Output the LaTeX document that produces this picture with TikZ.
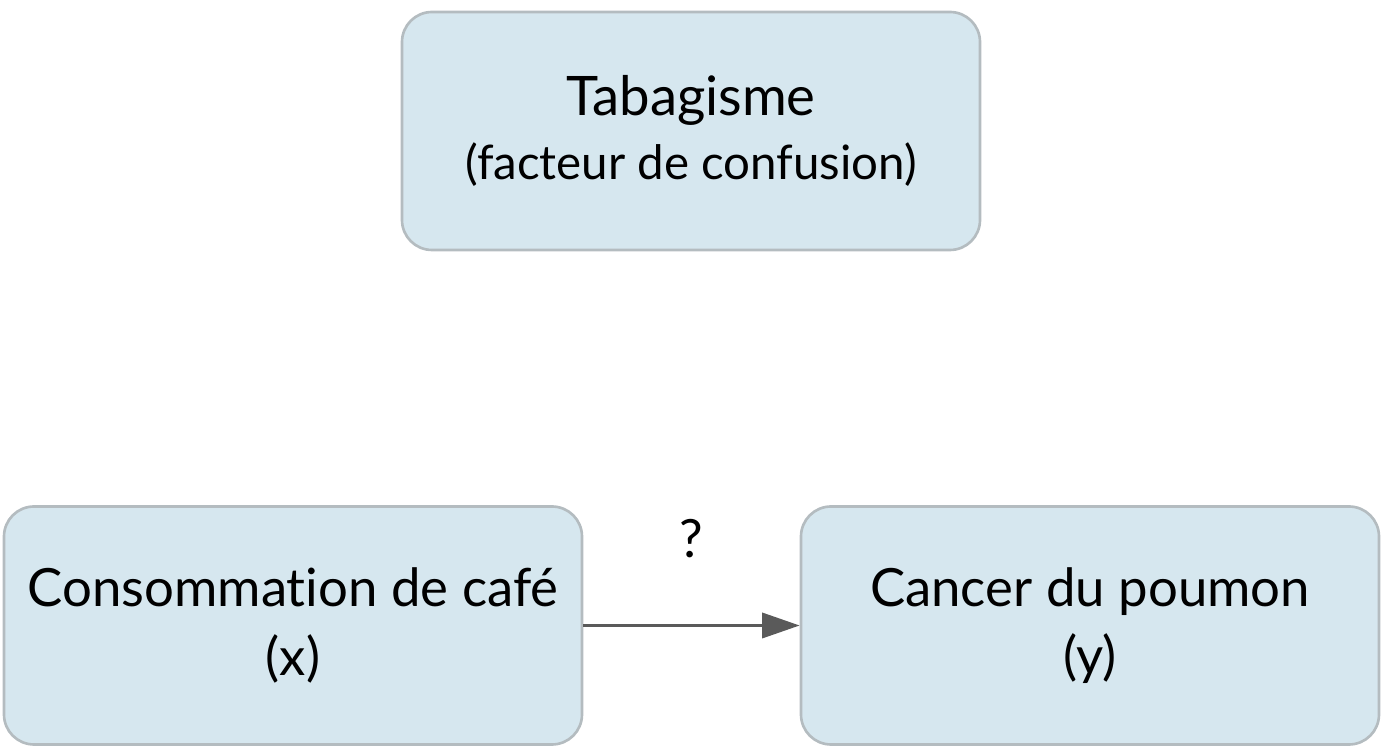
\documentclass[tikz,border=0pt]{standalone}
\usepackage{fontspec}
\setmainfont{Lato}[Ligatures=NoCommon]
\usetikzlibrary{arrows.meta}
\definecolor{boxfill}{HTML}{D6E7EF}
\definecolor{boxline}{HTML}{B4BCC0}
\definecolor{arrowgray}{HTML}{5A5A5A}
\begin{document}
\begin{tikzpicture}[
  box/.style={draw=boxline, line width=1.5pt, fill=boxfill, rounded corners=0.6cm,
    minimum width=11.56cm, minimum height=4.76cm, align=center, inner sep=0pt},
  arr/.style={draw=arrowgray, line width=2pt, -{Triangle[length=0.75cm,width=0.5cm]}}
]
\useasboundingbox (0,0) rectangle (27.64,15.04);

\node[box, font=\fontsize{31}{36}\selectfont] (smoke) at (13.82,12.42) {Tabagisme\\{\fontsize{27}{36}\selectfont(facteur de confusion)}};
\node[box, font=\fontsize{30}{39}\selectfont] (coffee) at (5.86,2.53) {Consommation de café\\(x)};
\node[box, font=\fontsize{30}{39}\selectfont] (cancer) at (21.8,2.53) {Cancer du poumon\\(y)};

\draw[arr] (coffee.east) -- (cancer.west) node[midway, above=1.2cm, font=\fontsize{30}{34}\selectfont] {?};

\end{tikzpicture}
\end{document}
